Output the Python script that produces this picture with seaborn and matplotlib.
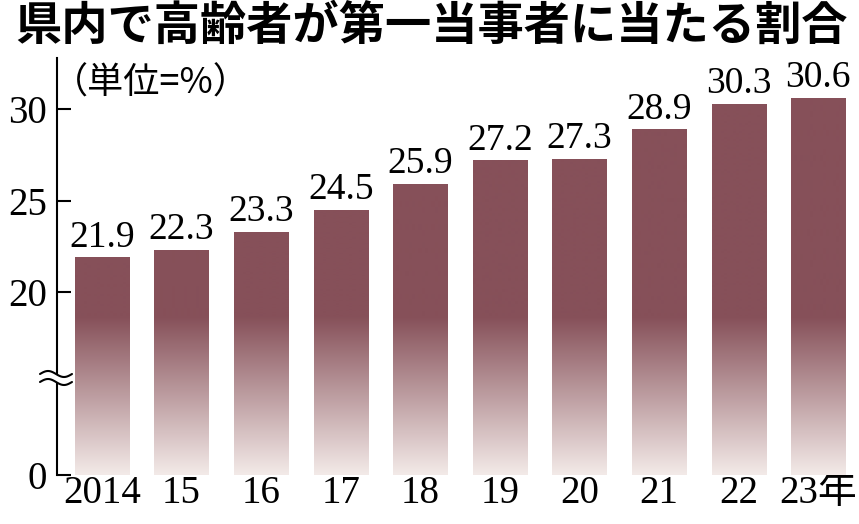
import numpy as np
import pandas as pd
import matplotlib
matplotlib.use('Agg')
import matplotlib.pyplot as plt
import seaborn as sns
from matplotlib.colors import to_rgb

# ---- data ----
years = ['2014', '15', '16', '17', '18', '19', '20', '21', '22', '23年']
values = [21.9, 22.3, 23.3, 24.5, 25.9, 27.2, 27.3, 28.9, 30.3, 30.6]
ytick_values = [0, 20, 25, 30]
title = '県内で高齢者が第一当事者に当たる割合'
unit_label = '（単位=%）'

sns.set_theme(style='white')
plt.rcParams['font.family'] = ['Liberation Serif', 'Noto Sans CJK JP', 'DejaVu Sans']

W, H = 859, 524
fig = plt.figure(figsize=(W / 100, H / 100), dpi=100)
fig.patch.set_facecolor('white')
ax = fig.add_axes([57 / W, 49 / H, 801 / W, 417 / H])
ax.set_facecolor('white')

df = pd.DataFrame({'year': years, 'value': values})
sns.barplot(data=df, x='year', y='value', ax=ax, width=0.68,
            color='#865059', saturation=1, linewidth=0, zorder=2)


# broken axis: compress 0-20 to half scale
def fwd(v):
    v = np.asarray(v, dtype=float)
    return np.where(v < 20, v / 2.0, v - 10.0)


def inv(d):
    d = np.asarray(d, dtype=float)
    return np.where(d < 10, d * 2.0, d + 10.0)


ax.set_yscale('function', functions=(fwd, inv))

# gradient fill clipped to each bar
dark = np.array(to_rgb('#865059'))
light = np.array(to_rgb('#F3EAE8'))
N = 417
t = np.arange(N) / (N - 1)
frac = np.clip(t / 0.379, 0, 1)[:, None]
grad = light + (dark - light) * frac
grad = grad[:, None, :]

bars = list(ax.containers[0])
for p in bars:
    im = ax.imshow(grad, extent=(0, 1, 0, 1), transform=ax.transAxes,
                   aspect='auto', origin='lower', zorder=2.1,
                   interpolation='bilinear')
    im.set_clip_path(p)
    p.set_facecolor('none')

ax.set_xlim(-0.565, 9.5)
ax.set_ylim(0, 32.8)

ax.bar_label(ax.containers[0], labels=[f'{v:.1f}' for v in values],
             padding=2, fontsize=27, color='black')

ax.set_yticks(ytick_values)
ax.set_yticklabels([str(v) for v in ytick_values])
ax.set_xlabel('')
ax.set_ylabel('')
ax.grid(False)

for s in ['top', 'right', 'bottom']:
    ax.spines[s].set_visible(False)
ax.spines['left'].set_color('black')
ax.spines['left'].set_linewidth(1.5)

ax.tick_params(axis='y', left=True, direction='in', length=10, width=1.5,
               pad=7, labelsize=28, colors='black')
ax.tick_params(axis='x', bottom=False, length=0, pad=0, labelsize=28,
               colors='black')

# break mark on the axis
xs = np.linspace(-17 / 801, 15 / 801, 60)
ph = np.linspace(0, 2 * np.pi, 60)
amp = 3 / 417
y0 = (475 - 374) / 417
y1 = (475 - 382) / 417
upper = y0 + amp * np.sin(ph)
lower = y1 + amp * np.sin(ph)
ax.fill_between(xs, lower, upper, transform=ax.transAxes, color='white',
                zorder=5, clip_on=False, linewidth=0)
ax.plot(xs, upper, transform=ax.transAxes, color='black', lw=1.5,
        zorder=6, clip_on=False)
ax.plot(xs, lower, transform=ax.transAxes, color='black', lw=1.5,
        zorder=6, clip_on=False)

fig.text(0.502, 1 - 2 / H, title, ha='center', va='top', fontsize=33.3,
         fontweight='bold', family=['Noto Sans CJK JP'], color='black')
fig.text(52 / W, 1 - 84 / H, unit_label, ha='left', va='center', fontsize=26,
         family=['Noto Sans CJK JP'], color='black')

fig.savefig('out.png', dpi=100, facecolor='white')
